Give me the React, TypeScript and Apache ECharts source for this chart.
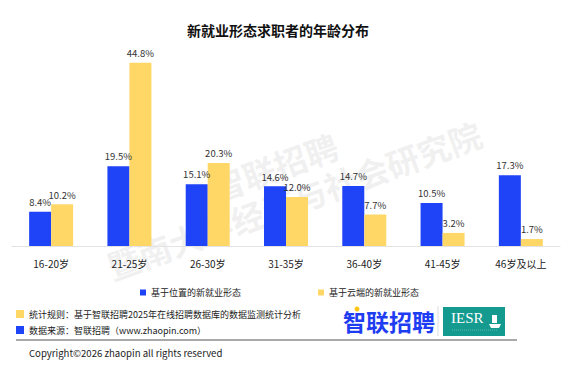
import React, { useEffect, useRef } from "react";
import * as echarts from "echarts";

const categories = ["16-20岁", "21-25岁", "26-30岁", "31-35岁", "36-40岁", "41-45岁", "46岁及以上"];
const locationBased = [8.4, 19.5, 15.1, 14.6, 14.7, 10.5, 17.3];
const cloudBased = [10.2, 44.8, 20.3, 12.0, 7.7, 3.2, 1.7];
const seriesNames = ["基于位置的新就业形态", "基于云端的新就业形态"];
const title = "新就业形态求职者的年龄分布";
const noteRule = "统计规则：基于智联招聘2025年在线招聘数据库的数据监测统计分析";
const noteSource = "数据来源：智联招聘（www.zhaopin.com）";
const copyright = "Copyright©2026 zhaopin all rights reserved";

const BLUE = "#1f43f6";
const YELLOW = "#ffd767";
const FONT = "'Microsoft YaHei', 'Noto Sans CJK SC', 'Noto Sans', sans-serif";
const WM = "rgba(190,190,190,0.22)";

export default function App() {
  const ref = useRef<HTMLDivElement>(null);
  useEffect(() => {
    if (!ref.current) return;
    const chart = echarts.init(ref.current, null, { renderer: "svg" });
    const label = {
      show: true,
      position: "top" as const,
      distance: 5,
      fontSize: 9.5,
      color: "#333",
      fontFamily: FONT,
      formatter: (p: any) => Number(p.value).toFixed(1) + "%",
    };
    chart.setOption({
      animation: false,
      backgroundColor: "#fff",
      textStyle: { fontFamily: FONT },
      title: {
        text: title,
        left: 273,
        textAlign: "center",
        top: 18,
        textStyle: { fontSize: 14, fontWeight: "bold", color: "#111", fontFamily: FONT },
      },
      legend: {
        data: seriesNames,
        top: 283,
        left: 135,
        icon: "rect",
        itemWidth: 6,
        itemHeight: 6,
        itemGap: 77,
        textStyle: { fontSize: 9, color: "#222", fontFamily: FONT },
      },
      grid: { left: 12, right: 5, top: 41.5, bottom: 129, containLabel: false },
      xAxis: {
        type: "category",
        data: categories,
        axisLine: { lineStyle: { color: "#e3e3e3", width: 1 } },
        axisTick: { show: false },
        axisLabel: { fontSize: 10, color: "#222", margin: 12, interval: 0, fontFamily: FONT },
      },
      yAxis: {
        type: "value",
        min: 0,
        max: 50,
        show: false,
        splitLine: { show: false },
      },
      series: [
        {
          name: seriesNames[0],
          type: "bar",
          data: locationBased,
          barWidth: 22,
          barGap: "0%",
          itemStyle: { color: BLUE },
          label,
        },
        {
          name: seriesNames[1],
          type: "bar",
          data: cloudBased,
          barWidth: 22,
          itemStyle: { color: YELLOW },
          label,
        },
      ],
      graphic: [
        {
          type: "group",
          x: 294,
          y: 200,
          rotation: (20 * Math.PI) / 180,
          silent: true,
          z: 100,
          children: [
            {
              type: "text",
              x: -7,
              y: -38,
              style: {
                text: "智联招聘",
                fontSize: 33,
                fontWeight: "bold",
                fill: WM,
                fontFamily: FONT,
                textAlign: "center",
                textVerticalAlign: "middle",
              },
            },
            {
              type: "text",
              x: 0,
              y: 0,
              style: {
                text: "暨南大学经济与社会研究院",
                fontSize: 33,
                fontWeight: "bold",
                fill: WM,
                fontFamily: FONT,
                textAlign: "center",
                textVerticalAlign: "middle",
              },
            },
          ],
        },
        { type: "rect", shape: { x: 16, y: 310, width: 8, height: 8 }, style: { fill: YELLOW } },
        {
          type: "text",
          x: 29,
          y: 314,
          style: { text: noteRule, fontSize: 9, fill: "#222", fontFamily: FONT, textVerticalAlign: "middle" },
        },
        { type: "rect", shape: { x: 16, y: 326, width: 8, height: 8 }, style: { fill: BLUE } },
        {
          type: "text",
          x: 29,
          y: 330,
          style: { text: noteSource, fontSize: 9, fill: "#222", fontFamily: FONT, textVerticalAlign: "middle" },
        },
        {
          type: "line",
          shape: { x1: 16, y1: 340, x2: 517, y2: 340 },
          style: { stroke: "#555", lineWidth: 1 },
        },
        {
          type: "text",
          x: 29,
          y: 353,
          style: { text: copyright, fontSize: 9.6, fill: "#222", fontFamily: FONT, textVerticalAlign: "middle" },
        },
        {
          type: "text",
          x: 343,
          y: 321,
          style: {
            text: "智联招聘",
            fontSize: 23,
            fontWeight: "bold",
            fill: "#1e3df2",
            fontFamily: FONT,
            textVerticalAlign: "middle",
          },
        },
        { type: "circle", shape: { cx: 357, cy: 309, r: 2.5 }, style: { fill: "#ffc61a" } },
        {
          type: "line",
          shape: { x1: 438, y1: 306, x2: 438, y2: 336 },
          style: { stroke: "#ddd", lineWidth: 1 },
        },
        { type: "rect", shape: { x: 443, y: 307, width: 62, height: 29 }, style: { fill: "#149a8f" } },
        {
          type: "text",
          x: 451,
          y: 318,
          style: {
            text: "IESR",
            fontSize: 15,
            fill: "#fff",
            fontFamily: "'Liberation Serif', 'DejaVu Serif', serif",
            textVerticalAlign: "middle",
          },
        },
        {
          type: "polygon",
          shape: { points: [[489, 324], [501, 324], [499, 328], [491, 328]] },
          style: { fill: "#fff" },
        },
        { type: "rect", shape: { x: 492, y: 315, width: 5, height: 8 }, style: { fill: "#fff" } },
        {
          type: "line",
          shape: { x1: 452, y1: 330, x2: 498, y2: 330 },
          style: { stroke: "rgba(255,255,255,0.5)", lineWidth: 0.6, lineDash: [1, 1] },
        },
      ],
    });
    return () => chart.dispose();
  }, []);
  return <div ref={ref} style={{ width: 565, height: 375, position: "absolute", left: 0, top: 0 }} />;
}
